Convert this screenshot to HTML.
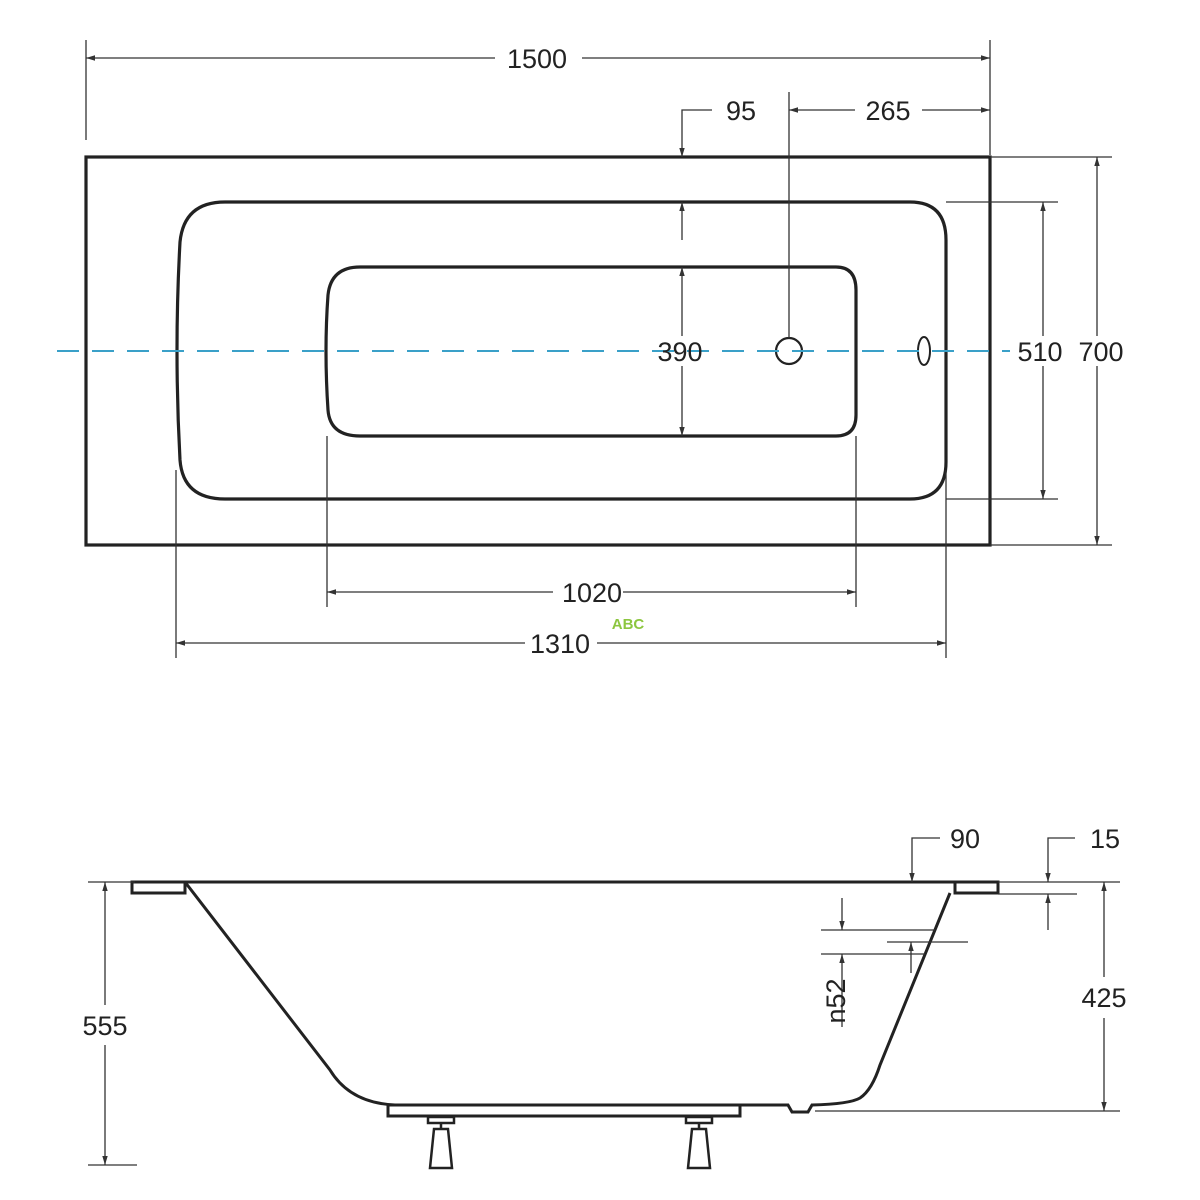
<!DOCTYPE html>
<html><head><meta charset="utf-8"><style>
html,body{margin:0;padding:0;background:#fff;width:1200px;height:1200px;overflow:hidden}
text{font-family:"Liberation Sans",Arial,sans-serif;fill:#222}
</style></head><body>
<svg width="1200" height="1200" viewBox="0 0 1200 1200" xmlns="http://www.w3.org/2000/svg">
<defs>
<marker id="a" viewBox="0 0 10 10" refX="10" refY="5" markerWidth="7" markerHeight="7" orient="auto-start-reverse"><path d="M0,2 L10,5 L0,8 z" fill="#333"/></marker>
</defs>
<g fill="none" stroke="#222" stroke-width="3.2">
<rect x="86" y="157" width="904" height="388"/>
<path d="M225,202 H910 Q946,202 946,240 V462 Q946,499 910,499 H225 Q183,499 180,460 Q174,350 180,242 Q184,202 225,202 Z"/>
<path d="M360,267 H836 Q856,267 856,290 V415 Q856,436 836,436 H360 Q330,436 328,410 Q324,350 328,295 Q331,267 360,267 Z"/>
<circle cx="789" cy="351" r="13" stroke-width="2.2"/>
<ellipse cx="924" cy="351" rx="6" ry="14" stroke-width="2"/>
</g>
<line x1="57" y1="351" x2="1010" y2="351" stroke="#3aa0c8" stroke-width="2" stroke-dasharray="22,13"/>
<g stroke="#333" stroke-width="1.3" fill="none">
<line x1="86" y1="40" x2="86" y2="140"/><line x1="990" y1="40" x2="990" y2="155"/>
<line x1="86" y1="58" x2="495" y2="58" marker-start="url(#a)"/><line x1="582" y1="58" x2="990" y2="58" marker-end="url(#a)"/>
<polyline points="712,110 682,110 682,157" marker-end="url(#a)"/>
<line x1="789" y1="92" x2="789" y2="338"/>
<line x1="789" y1="110" x2="855" y2="110" marker-start="url(#a)"/><line x1="922" y1="110" x2="990" y2="110" marker-end="url(#a)"/>
<line x1="682" y1="240" x2="682" y2="202" marker-end="url(#a)"/>
<line x1="682" y1="336" x2="682" y2="267" marker-end="url(#a)"/>
<line x1="682" y1="366" x2="682" y2="436" marker-end="url(#a)"/>
<line x1="946" y1="202" x2="1058" y2="202"/><line x1="946" y1="499" x2="1058" y2="499"/>
<line x1="1043" y1="336" x2="1043" y2="202" marker-end="url(#a)"/><line x1="1043" y1="366" x2="1043" y2="499" marker-end="url(#a)"/>
<line x1="990" y1="157" x2="1112" y2="157"/><line x1="990" y1="545" x2="1112" y2="545"/>
<line x1="1097" y1="336" x2="1097" y2="157" marker-end="url(#a)"/><line x1="1097" y1="366" x2="1097" y2="545" marker-end="url(#a)"/>
<line x1="327" y1="436" x2="327" y2="607"/><line x1="856" y1="436" x2="856" y2="607"/>
<line x1="327" y1="592" x2="856" y2="592" marker-start="url(#a)" marker-end="url(#a)"/>
<line x1="176" y1="470" x2="176" y2="658"/><line x1="946" y1="470" x2="946" y2="658"/>
<line x1="176" y1="643" x2="525" y2="643" marker-start="url(#a)"/><line x1="597" y1="643" x2="946" y2="643" marker-end="url(#a)"/>
</g>
<rect x="553" y="580" width="70" height="24" fill="#fff"/>
<g font-size="27" text-anchor="middle">
<text x="537" y="68">1500</text>
<text x="741" y="120">95</text>
<text x="888" y="120">265</text>
<text x="680" y="361">390</text>
<text x="1040" y="361">510</text>
<text x="1101" y="361">700</text>
<text x="592" y="602">1020</text>
<text x="560" y="653">1310</text>
</g>
<text x="628" y="629" font-size="15" font-weight="bold" text-anchor="middle" style="fill:#8cc63f">ABC</text>

<g fill="none" stroke="#222" stroke-width="3">
<line x1="132" y1="882" x2="998" y2="882"/>
<rect x="132" y="882" width="53" height="11"/>
<rect x="955" y="882" width="43" height="11"/>
<path d="M185,882 L330,1070 Q350,1103 395,1105 L788,1105 L792,1112 L808,1112 L812,1105 Q850,1104 860,1098 Q872,1090 880,1065 L950,893"/>
<rect x="388" y="1105" width="352" height="11"/>
<g stroke-width="2.5">
<rect x="428" y="1117" width="26" height="6"/><rect x="686" y="1117" width="26" height="6"/>
<line x1="441" y1="1123" x2="441" y2="1129"/><line x1="699" y1="1123" x2="699" y2="1129"/>
<path d="M434,1129 H448 L452,1168 H430 Z"/><path d="M692,1129 H706 L710,1168 H688 Z"/>
</g>
</g>
<g stroke="#333" stroke-width="1.3" fill="none">
<line x1="88" y1="882" x2="135" y2="882"/><line x1="88" y1="1165" x2="137" y2="1165"/>
<line x1="105" y1="1005" x2="105" y2="882" marker-end="url(#a)"/><line x1="105" y1="1045" x2="105" y2="1165" marker-end="url(#a)"/>
<line x1="998" y1="882" x2="1120" y2="882"/><line x1="815" y1="1111" x2="1120" y2="1111"/>
<line x1="1104" y1="977" x2="1104" y2="882" marker-end="url(#a)"/><line x1="1104" y1="1018" x2="1104" y2="1111" marker-end="url(#a)"/>
<polyline points="940,838 912,838 912,882" marker-end="url(#a)"/>
<polyline points="1075,838 1048,838 1048,882" marker-end="url(#a)"/>
<line x1="998" y1="894" x2="1077" y2="894"/>
<line x1="1048" y1="930" x2="1048" y2="894" marker-end="url(#a)"/>
<line x1="821" y1="930" x2="935" y2="930"/><line x1="821" y1="954" x2="925" y2="954"/>
<line x1="887" y1="942" x2="968" y2="942"/>
<line x1="842" y1="898" x2="842" y2="930" marker-end="url(#a)"/>
<line x1="842" y1="1027" x2="842" y2="954" marker-end="url(#a)"/>
<line x1="911" y1="973" x2="911" y2="942" marker-end="url(#a)"/>
</g>
<g font-size="27" text-anchor="middle">
<text x="105" y="1035">555</text>
<text x="1104" y="1007">425</text>
<text x="965" y="848">90</text>
<text x="1105" y="848">15</text>
<text x="0" y="0" transform="translate(845,1001) rotate(-90)">n52</text>
</g>
</svg>
</body></html>
